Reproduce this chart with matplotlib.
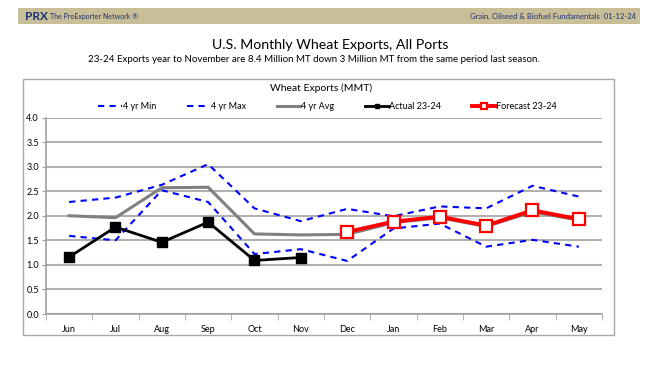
import numpy as np
import matplotlib.pyplot as plt
from matplotlib.patches import Rectangle

plt.rcParams['font.family'] = ['Lato', 'DejaVu Sans']

months = ['Jun', 'Jul', 'Aug', 'Sep', 'Oct', 'Nov', 'Dec', 'Jan', 'Feb', 'Mar', 'Apr', 'May']
min_4yr = [1.59, 1.50, 2.52, 2.28, 1.22, 1.32, 1.08, 1.74, 1.84, 1.37, 1.51, 1.37]
max_4yr = [2.28, 2.37, 2.63, 3.05, 2.15, 1.89, 2.14, 1.99, 2.19, 2.15, 2.61, 2.39]
avg_4yr = [2.00, 1.96, 2.57, 2.58, 1.63, 1.61, 1.62, 1.86, 1.96, 1.78, 2.08, 1.91]
actual = [1.16, 1.77, 1.46, 1.87, 1.09, 1.15]
forecast = [1.67, 1.88, 1.98, 1.80, 2.11, 1.93]

x = np.arange(len(months))

fig = plt.figure(figsize=(6.6, 3.67), dpi=100)

# header band and outer box
fig.add_artist(Rectangle((18/660, 1-24/367), 622/660, 16/367, transform=fig.transFigure,
                         facecolor='#c8bf98', edgecolor='none'))
fig.text(25/660, 1-16/367, 'PRX', fontsize=8.5, color='#1f2f6f', va='center', fontweight='bold')
fig.text(50/660, 1-16/367, 'The ProExporter Network ®', fontsize=5, color='#1f2f6f', va='center')
fig.text(636/660, 1-16/367, 'Grain, Oilseed & Biofuel Fundamentals  01-12-24', fontsize=5.5,
         color='#1f2f6f', va='center', ha='right')
fig.add_artist(Rectangle((23/660, 1-335/367), 591/660, 256/367, transform=fig.transFigure,
                         facecolor='none', edgecolor='#a8a8a8', lw=1))

fig.text(330/660, 1-45/367, 'U.S. Monthly Wheat Exports, All Ports', fontsize=10.2, ha='center', va='center')
fig.text(314/660, 1-60/367, '23-24 Exports year to November are 8.4 Million MT down 3 Million MT from the same period last season.',
         fontsize=7.0, ha='center', va='center')
fig.text(321/660, 1-88/367, 'Wheat Exports (MMT)', fontsize=7.5, ha='center', va='center')

ax = fig.add_axes([46/660, 1-314/367, 556/660, 196.5/367])
ax.plot(x, min_4yr, color='#0000ff', ls=(0, (3, 2.5)), lw=1.5, label='4 yr Min')
ax.plot(x, max_4yr, color='#0000ff', ls=(0, (3, 2.5)), lw=1.5, label='4 yr Max')
ax.plot(x, avg_4yr, color='#808080', lw=2.2, label='4 yr Avg')
ax.plot(x[:len(actual)], actual, color='black', lw=2, marker='s', ms=7, label='Actual 23-24')
ax.plot(x[6:], forecast, color='#ff0000', lw=2.8, marker='s', ms=8, mfc='white', mec='#ff0000',
        mew=1.6, label='Forecast 23-24')

ax.set_xlim(-0.5, 11.5)
ax.set_ylim(0, 4.0)
ax.set_yticks(np.arange(0, 4.01, 0.5))
ax.set_yticklabels(['%.1f' % v for v in np.arange(0, 4.01, 0.5)], fontsize=6.5)
ax.set_xticks(x)
ax.set_xticklabels(months, fontsize=6.5)
ax.tick_params(axis='x', length=0, pad=8)
ax.set_xticks(np.arange(-0.5, 12, 1), minor=True)
ax.tick_params(axis='x', which='minor', length=4, color='#a0a0a0')
ax.tick_params(axis='y', length=3, color='#a0a0a0', pad=2)
ax.grid(axis='y', color='#b0b0b0', lw=1.5)
ax.set_axisbelow(True)
for s in ['top', 'right']:
    ax.spines[s].set_visible(False)
for s in ['left', 'bottom']:
    ax.spines[s].set_color('#a0a0a0')
    ax.spines[s].set_linewidth(1.2)

ax.legend(loc='lower left', bbox_to_anchor=(46/556, 1.0), ncol=5, frameon=False, fontsize=6.5,
          handlelength=2.6, handletextpad=0.1, columnspacing=3.4, borderaxespad=0.3, markerscale=0.5)

fig.savefig('out.png', dpi=100)
